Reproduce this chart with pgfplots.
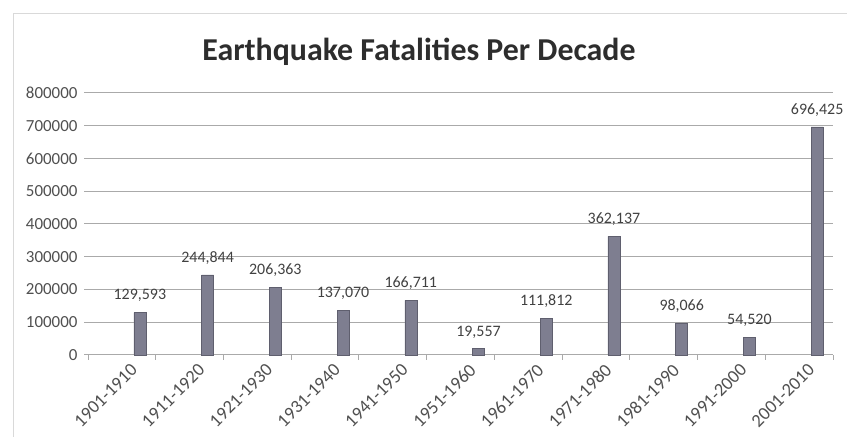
\documentclass[border=0pt]{standalone}
\usepackage{pgfplots}
\pgfplotsset{compat=1.18}
\usepackage{pgfplotstable}
\usepackage{fontspec}
\setmainfont{Carlito}

\definecolor{barfill}{RGB}{126,126,144}
\definecolor{bardraw}{RGB}{95,95,110}
\definecolor{gridgray}{RGB}{170,170,170}
\definecolor{ticktext}{RGB}{80,80,80}
\definecolor{labeltext}{RGB}{65,65,65}
\definecolor{titletext}{RGB}{45,45,45}

% decade index, fatalities, label
\pgfplotstableread{
x y label decade
0 129593 129,593 1901-1910
1 244844 244,844 1911-1920
2 206363 206,363 1921-1930
3 137070 137,070 1931-1940
4 166711 166,711 1941-1950
5 19557 19,557 1951-1960
6 111812 111,812 1961-1970
7 362137 362,137 1971-1980
8 98066 98,066 1981-1990
9 54520 54,520 1991-2000
10 696425 696,425 2001-2010
}\quakes

\begin{document}
\begin{tikzpicture}[x=1bp,y=1bp]
\useasboundingbox (0,0) rectangle (847,437);
\fill[white] (0,0) rectangle (847,437);
\draw[gray!30] (13,0) -- (13,424) -- (847,424);
\node[anchor=base, font=\bfseries\fontsize{32}{36}\selectfont, text=titletext]
  at (419,376) {Earthquake Fatalities Per Decade};
\begin{axis}[
  at={(88bp,82bp)}, anchor=south west,
  scale only axis,
  width=745bp, height=262bp,
  xmin=-0.5, xmax=10.5,
  ymin=0, ymax=800000,
  ytick={0,100000,...,800000},
  xtick={0,...,10},
  xticklabels from table={\quakes}{decade},
  minor xtick={-0.5,0.5,...,10.5},
  axis lines*=left,
  y axis line style={draw=none},
  x axis line style={gridgray, line width=1bp},
  ymajorgrids,
  major grid style={gridgray, line width=1bp},
  tick align=outside,
  major tick length=4bp,
  minor tick length=5bp,
  major x tick style={draw=none},
  minor x tick style={gridgray, line width=1bp},
  major y tick style={gridgray, line width=1bp},
  scaled y ticks=false,
  /pgf/number format/.cd, 1000 sep={}, fixed, assume math mode=true,
  /pgfplots/.cd,
  yticklabel style={font=\fontsize{17}{19}\selectfont, text=ticktext, xshift=-3bp},
  xticklabel style={font=\fontsize{18.5}{20}\selectfont, text=ticktext, rotate=45, anchor=north east, inner sep=1bp, xshift=4bp, yshift=-7bp},
  clip=false,
]
\addplot[ybar, bar width=12bp, bar shift=18bp, fill=barfill, draw=bardraw,
  point meta=explicit symbolic,
  nodes near coords={\pgfplotspointmeta},
  every node near coord/.append style={font=\fontsize{16}{18}\selectfont, text=labeltext, xshift=18bp, yshift=7bp}]
  table[x=x, y=y, meta=label] {\quakes};
\end{axis}
\end{tikzpicture}
\end{document}
